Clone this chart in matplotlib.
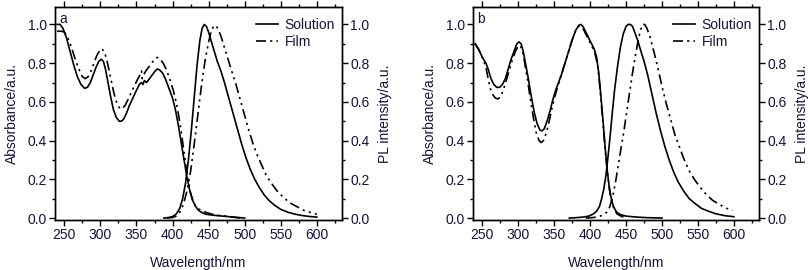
import matplotlib.pyplot as plt
from matplotlib.ticker import MultipleLocator

plt.rcParams['font.family'] = ['Liberation Sans', 'DejaVu Sans']
TEXT_COLOR = '#14143c'
FONTSIZE = 10

# panel a - absorbance
a_abs_sol_x = [240, 244, 248, 253, 258, 263, 268, 273, 278, 282, 286, 290, 294, 298, 301, 304, 307, 310, 314, 318,
               322, 326, 329, 332, 336, 340, 345, 350, 354, 357, 359, 361, 364, 368, 372, 376, 379, 382, 386, 390,
               395, 400, 404, 408, 412, 416, 420, 424, 428, 432, 436, 440, 446, 455, 470, 485, 500]
a_abs_sol_y = [1.0, 1.0, 0.98, 0.93, 0.86, 0.79, 0.73, 0.69, 0.67, 0.675, 0.70, 0.74, 0.78, 0.81, 0.82, 0.81, 0.77,
               0.71, 0.63, 0.56, 0.52, 0.50, 0.50, 0.51, 0.54, 0.58, 0.62, 0.66, 0.69, 0.70, 0.69, 0.71, 0.70, 0.72,
               0.74, 0.76, 0.77, 0.765, 0.75, 0.72, 0.67, 0.62, 0.56, 0.48, 0.39, 0.30, 0.21, 0.14, 0.09, 0.06,
               0.04, 0.03, 0.02, 0.015, 0.01, 0.005, 0.0]
a_abs_film_x = [240, 246, 250, 255, 260, 265, 270, 275, 279, 283, 287, 291, 295, 299, 302, 305, 308, 311, 315, 319,
                323, 327, 330, 334, 338, 343, 348, 352, 355, 357, 358, 360, 363, 367, 371, 375, 379, 383, 387, 391,
                396, 401, 405, 409, 413, 417, 421, 425, 429, 433, 437, 442, 450, 460, 470, 480, 495]
a_abs_film_y = [0.965, 0.965, 0.96, 0.93, 0.88, 0.82, 0.77, 0.73, 0.72, 0.73, 0.76, 0.80, 0.84, 0.865, 0.875, 0.86,
                0.83, 0.78, 0.71, 0.64, 0.59, 0.565, 0.565, 0.58, 0.61, 0.65, 0.69, 0.72, 0.74, 0.76, 0.72, 0.74,
                0.76, 0.78, 0.80, 0.82, 0.83, 0.82, 0.80, 0.77, 0.72, 0.66, 0.60, 0.52, 0.42, 0.31, 0.21, 0.13,
                0.08, 0.055, 0.045, 0.035, 0.025, 0.015, 0.012, 0.006, 0.0]
# panel a - PL
a_pl_sol_x = [388, 395, 400, 405, 410, 414, 418, 422, 426, 430, 434, 438, 441, 444, 447, 450, 454, 458, 462, 467,
              472, 478, 484, 490, 496, 502, 508, 514, 520, 527, 534, 542, 550, 560, 570, 580, 590, 600]
a_pl_sol_y = [0.0, 0.003, 0.008, 0.02, 0.05, 0.10, 0.18, 0.30, 0.45, 0.62, 0.79, 0.92, 0.98, 1.0, 0.99, 0.96, 0.91,
              0.86, 0.81, 0.76, 0.70, 0.62, 0.54, 0.46, 0.38, 0.31, 0.25, 0.20, 0.16, 0.12, 0.09, 0.065, 0.045,
              0.03, 0.02, 0.013, 0.008, 0.005]
a_pl_film_x = [392, 400, 405, 410, 415, 420, 425, 430, 435, 440, 445, 450, 454, 458, 461, 464, 468, 472, 477, 482,
               488, 494, 500, 506, 512, 518, 524, 530, 537, 545, 553, 562, 572, 582, 592, 600]
a_pl_film_y = [0.0, 0.003, 0.01, 0.03, 0.07, 0.14, 0.24, 0.38, 0.53, 0.68, 0.81, 0.91, 0.97, 0.995, 0.99, 0.97,
               0.93, 0.88, 0.82, 0.76, 0.69, 0.61, 0.53, 0.45, 0.38, 0.32, 0.27, 0.22, 0.18, 0.14, 0.11, 0.08,
               0.06, 0.04, 0.028, 0.02]

# panel b - absorbance
b_abs_sol_x = [240, 245, 250, 255, 258, 262, 266, 270, 274, 278, 282, 286, 290, 294, 298, 301, 304, 307, 310, 314,
               318, 322, 326, 330, 333, 336, 340, 344, 348, 352, 356, 360, 365, 370, 375, 380, 384, 387, 390, 394,
               398, 402, 406, 409, 412, 415, 418, 421, 424, 427, 430, 433, 437, 442, 450, 465, 480, 500]
b_abs_sol_y = [0.90, 0.87, 0.83, 0.80, 0.77, 0.72, 0.69, 0.675, 0.675, 0.69, 0.72, 0.77, 0.82, 0.86, 0.90, 0.91,
               0.90, 0.86, 0.80, 0.72, 0.63, 0.55, 0.49, 0.455, 0.45, 0.46, 0.50, 0.55, 0.61, 0.66, 0.70, 0.74,
               0.80, 0.86, 0.92, 0.97, 0.995, 1.0, 0.99, 0.96, 0.93, 0.90, 0.87, 0.83, 0.75, 0.63, 0.50, 0.36,
               0.24, 0.15, 0.09, 0.055, 0.03, 0.018, 0.01, 0.005, 0.002, 0.0]
b_abs_film_x = [240, 245, 250, 255, 258, 261, 264, 268, 272, 276, 280, 284, 288, 292, 296, 300, 303, 306, 309, 313,
                317, 321, 325, 329, 332, 335, 339, 343, 347, 351, 355, 360, 365, 370, 375, 380, 384, 387, 390, 394,
                398, 402, 406, 410, 413, 416, 419, 422, 425, 428, 431, 434, 438, 444, 452]
b_abs_film_y = [0.90, 0.87, 0.83, 0.78, 0.72, 0.67, 0.64, 0.62, 0.615, 0.63, 0.67, 0.72, 0.77, 0.82, 0.86, 0.89,
                0.89, 0.86, 0.80, 0.71, 0.61, 0.52, 0.44, 0.40, 0.39, 0.40, 0.44, 0.50, 0.57, 0.63, 0.68, 0.74,
                0.80, 0.86, 0.92, 0.97, 0.99, 0.99, 0.98, 0.95, 0.92, 0.89, 0.86, 0.80, 0.70, 0.57, 0.44, 0.31,
                0.20, 0.12, 0.07, 0.04, 0.02, 0.008, 0.0]
# panel b - PL
b_pl_sol_x = [371, 380, 390, 398, 404, 409, 413, 416, 419, 422, 425, 428, 431, 434, 438, 442, 446, 450, 453, 456,
              459, 462, 466, 470, 475, 480, 486, 492, 498, 504, 510, 516, 522, 530, 538, 546, 555, 565, 575, 588, 600]
b_pl_sol_y = [0.0, 0.002, 0.005, 0.01, 0.02, 0.035, 0.06, 0.10, 0.15, 0.22, 0.32, 0.43, 0.55, 0.66, 0.78, 0.88,
              0.95, 0.99, 1.0, 1.0, 0.99, 0.96, 0.92, 0.87, 0.81, 0.74, 0.64, 0.54, 0.45, 0.37, 0.30, 0.24, 0.19,
              0.14, 0.10, 0.075, 0.05, 0.035, 0.022, 0.012, 0.007]
b_pl_film_x = [394, 405, 412, 418, 423, 427, 430, 433, 436, 439, 443, 447, 451, 455, 459, 463, 467, 470, 473, 476,
               479, 483, 488, 494, 500, 506, 512, 518, 524, 530, 537, 545, 553, 562, 571, 580, 590, 598]
b_pl_film_y = [0.0, 0.003, 0.008, 0.015, 0.03, 0.055, 0.09, 0.14, 0.20, 0.27, 0.36, 0.45, 0.55, 0.65, 0.75, 0.84,
               0.92, 0.97, 1.0, 1.0, 0.98, 0.94, 0.87, 0.78, 0.68, 0.59, 0.51, 0.43, 0.37, 0.31, 0.25, 0.20, 0.16,
               0.12, 0.09, 0.07, 0.05, 0.04]

FILM_DASH = (0, (6, 2.5, 1.3, 2.5, 1.3, 2.5))
LW = 1.2


def draw_panel(rect, letter, abs_sol, abs_film, pl_sol, pl_film):
    ax = fig.add_axes(rect)
    ax2 = ax.twinx()

    # absorbance on the left axis
    sol_line, = ax.plot(abs_sol[0], abs_sol[1], '-', color='black', linewidth=LW)
    film_line, = ax.plot(abs_film[0], abs_film[1], color='black', linewidth=LW, linestyle=FILM_DASH)
    # PL on the right axis
    ax2.plot(pl_sol[0], pl_sol[1], '-', color='black', linewidth=LW)
    ax2.plot(pl_film[0], pl_film[1], color='black', linewidth=LW, linestyle=FILM_DASH)

    for a in (ax, ax2):
        a.set_xlim(237, 635)
        a.set_ylim(-0.01, 1.09)
        a.yaxis.set_major_locator(MultipleLocator(0.2))
        a.yaxis.set_minor_locator(MultipleLocator(0.1))
        a.yaxis.set_major_formatter(lambda v, pos: '%.1f' % v)
        a.tick_params(axis='both', which='major', direction='out', length=4, width=1,
                      labelsize=FONTSIZE, labelcolor=TEXT_COLOR, pad=2)
        a.tick_params(axis='both', which='minor', direction='out', length=2, width=1)
        for s in a.spines.values():
            s.set_linewidth(1.0)

    ax.xaxis.set_major_locator(MultipleLocator(50))
    ax.xaxis.set_minor_locator(MultipleLocator(25))
    ax.tick_params(axis='x', which='both', top=True)

    ax.set_xlabel('Wavelength/nm', fontsize=FONTSIZE, color=TEXT_COLOR, labelpad=10)
    ax.set_ylabel('Absorbance/a.u.', fontsize=FONTSIZE, color=TEXT_COLOR, labelpad=6)
    ax2.set_ylabel('PL intensity/a.u.', fontsize=FONTSIZE, color=TEXT_COLOR, labelpad=6)

    ax.text(0.015, 0.975, letter, transform=ax.transAxes, ha='left', va='top',
            fontsize=FONTSIZE, color=TEXT_COLOR)
    ax.legend([sol_line, film_line], ['Solution', 'Film'], loc='upper right',
              bbox_to_anchor=(0.995, 0.975), frameon=False, borderpad=0.2,
              fontsize=FONTSIZE, handlelength=1.6, handletextpad=0.45, labelspacing=0.22,
              borderaxespad=0.2, labelcolor=TEXT_COLOR)


fig = plt.figure(figsize=(8.1, 2.7), dpi=100)

draw_panel([55 / 810, 50 / 270, 287 / 810, 213 / 270], 'a',
           (a_abs_sol_x, a_abs_sol_y), (a_abs_film_x, a_abs_film_y),
           (a_pl_sol_x, a_pl_sol_y), (a_pl_film_x, a_pl_film_y))
draw_panel([473 / 810, 50 / 270, 286 / 810, 213 / 270], 'b',
           (b_abs_sol_x, b_abs_sol_y), (b_abs_film_x, b_abs_film_y),
           (b_pl_sol_x, b_pl_sol_y), (b_pl_film_x, b_pl_film_y))

plt.savefig('out.png', dpi=100)
